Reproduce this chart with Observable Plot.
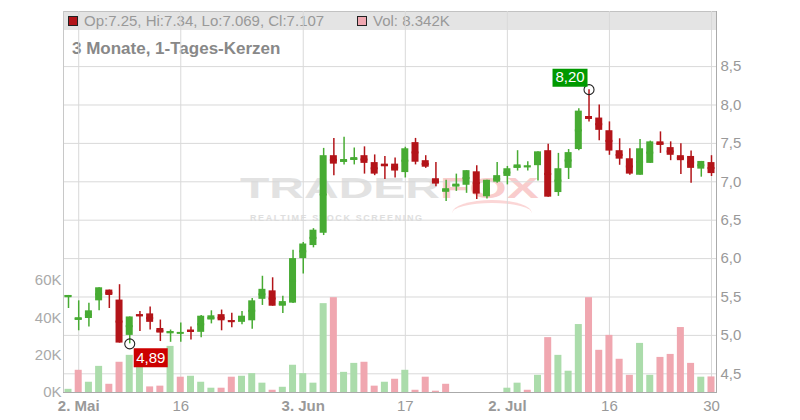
<!DOCTYPE html>
<html>
<head>
<meta charset="utf-8">
<script src="https://cdn.jsdelivr.net/npm/d3@7"></script>
<script src="https://cdn.jsdelivr.net/npm/@observablehq/plot@0.6"></script>
<style>
  html, body { margin: 0; padding: 0; background: #fff; }
  body { font-family: "Liberation Sans", Arial, sans-serif; }
  #wrap { position: relative; width: 800px; height: 420px; overflow: hidden; }
  #wrap svg { position: absolute; left: 0; top: 0; background: transparent; }
  #hdr { position: absolute; left: 63px; top: 11px; width: 653px; height: 19px; background: #e4e4e4; border-top: 1px solid #c2c2c2; box-sizing: border-box; }
  .sq { position: absolute; top: 16px; width: 10px; height: 10px; box-sizing: border-box; border: 1px solid #222; }
  .ht { position: absolute; top: 12px; font-size: 15px; line-height: 17px; color: #999; white-space: nowrap; }
  #title { position: absolute; left: 72px; top: 40px; font-size: 17px; line-height: 17px; font-weight: bold; color: #888; white-space: nowrap; }
  .wm { position: absolute; font-weight: bold; white-space: nowrap; transform-origin: 0 0; }
  #wm1 { left: 240px; top: 173px; font-size: 30px; line-height: 30px; color: #e2e2e2; transform: scaleX(1.6); }
  #wm2 { left: 440px; top: 173px; font-size: 30px; line-height: 30px; color: #f9cccc; transform: scaleX(1.6); }
  #wm3 { left: 250px; top: 214px; font-size: 9px; line-height: 9px; color: #dedede; letter-spacing: 1.6px; }
  #wm4 { position: absolute; left: 452px; top: 200px; width: 80px; height: 26px; border-top: 3px solid #fbd6d6; border-radius: 50% 50% 0 0; box-sizing: border-box; }
</style>
</head>
<body>
<div id="wrap">
  <div id="hdr"></div>
  <div class="sq" id="sqO" style="left:68px;background:#b31419"></div>
  <div class="ht" id="ohlc" style="left:84px"></div>
  <div class="sq" id="sqV" style="left:357px;background:#f0a7b0"></div>
  <div class="ht" id="vol" style="left:373px"></div>
  <div id="title"></div>
  <div class="wm" id="wm1">TRADER</div>
  <div class="wm" id="wm2">FOX</div>
  <div id="wm4"></div>
  <div class="wm" id="wm3">REALTIME STOCK SCREENING</div>
</div>
<script>
// ---- data ----
const opens   = [5.50,5.20,5.22,5.45,5.59,5.46,5.00,5.27,5.28,5.09,5.03,5.03,5.07,5.04,5.20,5.27,5.19,5.17,5.19,5.47,
                 5.58,5.38,5.42,6.00,6.17,6.33,7.34,7.255,7.28,7.34,7.25,7.23,7.23,7.12,7.51,7.275,7.04,6.865,6.935,6.955,
                 7.13,6.805,6.995,7.07,7.175,7.195,7.21,7.405,6.86,7.175,7.42,7.85,7.83,7.665,7.405,7.30,7.085,7.24,7.52,7.445,
                 7.34,7.33,7.165,7.25];
const highs   = [5.52,5.45,5.42,5.62,5.59,5.66,5.24,5.31,5.37,5.20,5.07,5.16,5.11,5.26,5.32,5.33,5.29,5.31,5.48,5.77,
                 5.75,5.51,6.11,6.21,6.39,7.435,7.565,7.58,7.44,7.455,7.35,7.33,7.31,7.45,7.565,7.34,7.25,7.02,7.10,7.145,
                 7.21,7.02,7.25,7.20,7.405,7.26,7.39,7.49,7.37,7.42,7.95,8.20,8.00,7.78,7.56,7.43,7.55,7.53,7.65,7.52,
                 7.495,7.40,7.265,7.34];
const lows    = [5.35,5.06,5.11,5.32,5.35,4.90,4.89,5.05,5.07,4.92,4.91,4.91,4.94,4.97,5.15,5.06,5.10,5.14,5.08,5.39,
                 5.38,5.285,5.415,5.80,6.14,6.30,7.08,7.22,7.22,7.10,7.08,7.03,7.05,7.05,7.22,7.175,6.935,6.745,6.875,6.85,
                 6.77,6.775,6.98,6.96,7.14,7.14,7.01,6.80,6.81,7.03,7.405,7.78,7.535,7.345,7.215,7.085,7.085,7.24,7.37,7.275,
                 7.095,6.98,7.06,7.069];
const closes  = [5.52,5.23,5.32,5.62,5.52,4.90,5.24,5.25,5.17,5.03,5.05,5.035,5.045,5.25,5.255,5.19,5.18,5.25,5.45,5.60,
                 5.38,5.44,6.00,6.19,6.37,7.34,7.23,7.29,7.315,7.24,7.10,7.20,7.14,7.43,7.255,7.19,6.97,6.91,6.97,7.145,
                 6.84,7.02,7.08,7.17,7.22,7.205,7.39,6.80,7.17,7.38,7.92,7.815,7.67,7.40,7.295,7.10,7.43,7.52,7.475,7.345,
                 7.275,7.175,7.265,7.107];
const volumesK = [1.7,11.9,5.5,14.0,4.4,16.2,19.9,18.0,3.0,3.4,24.7,8.2,8.7,5.5,2.3,2.3,8.2,8.7,10.1,5.0,
                  1.2,2.8,14.6,10.1,5.0,47.6,50.8,10.8,15.6,16.2,3.4,5.5,7.1,11.9,1.2,8.2,0.7,4.4,0,0,
                  0,0,0,2.3,5.0,1.2,9.2,29.4,19.9,11.4,36.4,50.8,22.6,30.6,17.8,9.2,26.3,9.2,18.8,20.4,
                  34.8,15.6,8.2,8.342];
const tickIndex  = [1, 11, 23, 33, 43, 53, 63];
const tickLabels = ["2. Mai", "16", "3. Jun", "17", "2. Jul", "16", "30"];
const boldTickLabels = ["2. Mai", "3. Jun", "2. Jul"];
const priceTicks = [4.5, 5.0, 5.5, 6.0, 6.5, 7.0, 7.5, 8.0, 8.5];
const volumeTicksK = [0, 20, 40, 60];
const titleText = "3 Monate, 1-Tages-Kerzen";

// ---- styling / layout ----
const W = 800, H = 420, mL = 63, mR = 84, mT = 11, mB = 28;
const font = "Liberation Sans, Arial, sans-serif";
const cUp = "#47ab33", cDown = "#b31419", vUp = "#abdcab", vDown = "#f0a7b0";
const priceDomain = [4.2565, 9.2174];
const volDomain = [0, 204.1];

const rows = opens.map((o, i) => ({i, o, h: highs[i], l: lows[i], c: closes[i], v: volumesK[i]}));
rows.forEach((d, i) => {
  d.col = d.c >= d.o ? cUp : cDown;
  d.vcol = (i === 0 ? d.c >= d.o : d.c >= rows[i - 1].c) ? vUp : vDown;
});
const idx = rows.map(d => d.i);
const xOpts = () => ({type: "band", domain: idx, paddingInner: 0.314, paddingOuter: 0.147, round: false, axis: null});
const labelOf = i => tickLabels[tickIndex.indexOf(i)];
const comma = (v, n) => v.toFixed(n).replace(".", ",");
const base = {width: W, height: H, marginLeft: mL, marginRight: mR, marginTop: mT, marginBottom: mB,
  style: {background: "transparent", fontFamily: font, fontSize: "15px", overflow: "visible"}};

// header texts from data
const last = rows[rows.length - 1];
document.getElementById("ohlc").textContent = `Op:${last.o}, Hi:${last.h}, Lo:${last.l}, Cl:${last.c}`;
document.getElementById("vol").textContent = `Vol: ${last.v}K`;
document.getElementById("title").textContent = titleText;

const wrap = document.getElementById("wrap");

// Layer 1: grid and axes
const boldIdx = tickIndex.filter(i => boldTickLabels.includes(labelOf(i)));
const normIdx = tickIndex.filter(i => !boldTickLabels.includes(labelOf(i)));
const layer1 = Plot.plot({...base,
  x: xOpts(), y: {domain: priceDomain, axis: null},
  marks: [
    Plot.ruleX(tickIndex, {x: d => d, stroke: "#d9d9d9", strokeWidth: 1}),
    Plot.ruleY(priceTicks, {y: d => d, stroke: "#d9d9d9", strokeWidth: 1}),
    Plot.frame({anchor: "left", stroke: "#c8c8c8"}),
    Plot.frame({anchor: "right", stroke: "#aaa"}),
    Plot.frame({anchor: "bottom", stroke: "#aaa"}),
    Plot.axisY(priceTicks, {anchor: "right", label: null, tickSize: 0, tickPadding: 4, tickFormat: d => comma(d, 1), fill: "#999", fontSize: 15}),
    Plot.axisX(boldIdx, {anchor: "bottom", label: null, tickSize: 0, tickPadding: 8, tickFormat: labelOf, fill: "#999", fontSize: 15, fontWeight: "bold"}),
    Plot.axisX(normIdx, {anchor: "bottom", label: null, tickSize: 0, tickPadding: 8, tickFormat: labelOf, fill: "#999", fontSize: 15})
  ]
});
wrap.appendChild(layer1);

// Layer 2: volume
const layer2 = Plot.plot({...base,
  x: xOpts(), y: {domain: volDomain, axis: null}, color: {type: "identity"},
  marks: [
    Plot.barY(rows, {x: "i", y: "v", fill: "vcol"}),
    Plot.axisY(volumeTicksK, {anchor: "left", label: null, tickSize: 0, tickPadding: 2, tickFormat: d => d + "K", fill: "#aaa", fontSize: 15})
  ]
});
wrap.appendChild(layer2);

// Layer 3: candles and min/max annotations
const lowPt = d3.least(rows, d => d.l);
const highPt = d3.greatest(rows, d => d.h);
const box = (w, h) => ({draw(ctx) { ctx.rect(-w / 2, -h / 2, w, h); }});
const layer3 = Plot.plot({...base,
  x: xOpts(), y: {domain: priceDomain, axis: null}, color: {type: "identity"},
  marks: [
    Plot.ruleX(rows, {x: "i", y1: "l", y2: "h", stroke: "col", strokeWidth: 1.5}),
    Plot.barY(rows, {x: "i", y1: "o", y2: "c", fill: "col"}),
    Plot.tickY(rows, {x: "i", y: d => (d.o + d.c) / 2, stroke: "col", strokeWidth: 2}),
    Plot.dot([lowPt], {x: "i", y: "l", r: 5, stroke: "#222", strokeWidth: 1.1, fill: "none"}),
    Plot.dot([highPt], {x: "i", y: "h", r: 5, stroke: "#222", strokeWidth: 1.1, fill: "none"}),
    Plot.dot([lowPt], {x: "i", y: "l", symbol: box(34, 19), r: 5, fill: "#cc0000", stroke: "none", dx: 21, dy: 14}),
    Plot.text([lowPt], {x: "i", y: "l", text: d => comma(d.l, 2), fill: "#fff", fontSize: 15, dx: 21, dy: 14}),
    Plot.dot([highPt], {x: "i", y: "h", symbol: box(35, 18), r: 5, fill: "#009900", stroke: "none", dx: -19, dy: -12}),
    Plot.text([highPt], {x: "i", y: "h", text: d => comma(d.h, 2), fill: "#fff", fontSize: 15, dx: -19, dy: -12})
  ]
});
wrap.appendChild(layer3);
</script>
</body>
</html>
